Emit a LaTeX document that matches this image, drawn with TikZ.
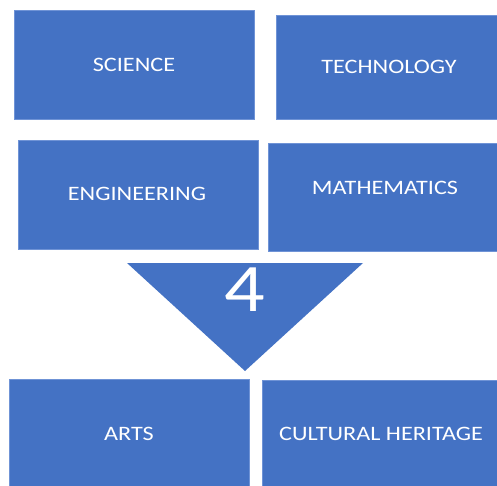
\documentclass[tikz,border=0pt]{standalone}
\usepackage{fontspec}
\setmainfont{Carlito}
\usepackage{graphicx}
\definecolor{boxblue}{HTML}{4472C4}
\definecolor{edgeblue}{HTML}{6F93D6}
\begin{document}
\begin{tikzpicture}[x=1pt,y=-1pt,
  box/.style={fill=boxblue,draw=edgeblue,line width=0.6pt},
  lbl/.style={anchor=base,text=white,inner sep=0pt,font=\fontsize{20.5}{22}\selectfont},
  big/.style={anchor=base,text=white,inner sep=0pt,font=\fontsize{68}{70}\selectfont}]
\useasboundingbox (0,0) rectangle (497,486);
\fill[white] (0,0) rectangle (497,486);
% boxes
\path[box] (14,10) rectangle (254,119) coordinate (sciC);
\path[box] (276,15) rectangle (500,119);
\path[box] (18,140) rectangle (258,249);
\path[box] (268,143) rectangle (500,251);
\path[box] (9,379) rectangle (249,490);
\path[box] (262,380) rectangle (500,490);
% triangle
\fill[boxblue] (127,263) -- (363,263) -- (245,371) -- cycle;
% labels
\node[lbl] (sci) at (134,71.7) {\scalebox{1.18}[1]{SCIENCE}};
\node[lbl] (tech) at (389,73.3) {\scalebox{1.18}[1]{TECHNOLOGY}};
\node[lbl] (eng) at (137,200.7) {\scalebox{1.18}[1]{ENGINEERING}};
\node[lbl] (math) at (385,195) {\scalebox{1.18}[1]{MATHEMATICS}};
\node[lbl] (arts) at (129,440) {\scalebox{1.18}[1]{ARTS}};
\node[lbl] (cult) at (381,440) {\scalebox{1.18}[1]{CULTURAL HERITAGE}};
\node[big] (four) at (244.5,311.7) {\scalebox{1.18}[1]{4}};
\end{tikzpicture}
\end{document}
